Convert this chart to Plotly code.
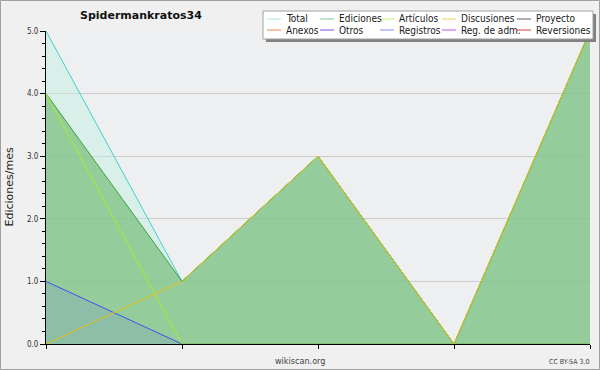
import plotly.graph_objects as go

# ---- data ----
periods = [0, 1, 2, 3, 4]
total = [5, 1, 3, 0, 5]
ediciones = [4, 1, 3, 0, 5]
articulos = [4, 0, 0, 0, 0]
discusiones = [0, 1, 3, 0, 5]
registros = [1, 0, 0, 0, 0]

legend_names = ["Total", "Ediciones", "Artículos", "Discusiones", "Proyecto",
                "Anexos", "Otros", "Registros", "Reg. de adm.", "Reversiones"]
legend_colors = ["#a8e4e0", "#80c890", "#c8f070", "#f0d060", "#606060",
                 "#f08850", "#8050e0", "#8090f0", "#c050e0", "#e04040"]

title = "Spidermankratos34"
y_title = "Ediciones/mes"

W, H = 600, 370
ML, MR, MT, MB = 46, 10, 31, 26
PW, PH = W - ML - MR, H - MT - MB

FONT = "DejaVu Sans Condensed, DejaVu Sans, Liberation Sans"

fig = go.Figure()
fig.add_trace(go.Scatter(x=periods, y=total, mode="lines", fill="tozeroy",
                         fillcolor="rgba(190,240,225,0.45)",
                         line=dict(color="#40d0d0", width=1)))
fig.add_trace(go.Scatter(x=periods, y=ediciones, mode="lines", fill="tozeroy",
                         fillcolor="rgba(120,190,125,0.72)",
                         line=dict(color="#40a040", width=1)))
fig.add_trace(go.Scatter(x=periods, y=registros, mode="lines", fill="tozeroy",
                         fillcolor="rgba(110,130,220,0.18)",
                         line=dict(color="#4050f0", width=1)))
fig.add_trace(go.Scatter(x=periods, y=articulos, mode="lines",
                         line=dict(color="#a8f020", width=1)))
fig.add_trace(go.Scatter(x=periods, y=discusiones, mode="lines",
                         line=dict(color="#e8c010", width=1)))

def px2paper_x(px):
    return (px - ML) / PW

def px2paper_y(py):
    return (H - MB - py) / PH

shapes = []
annotations = []

# outer border
shapes.append(dict(type="rect", xref="paper", yref="paper",
                   x0=px2paper_x(0.5), x1=px2paper_x(W - 0.5),
                   y0=px2paper_y(H - 0.5), y1=px2paper_y(0.5),
                   line=dict(color="#a0a0a0", width=1), fillcolor="rgba(0,0,0,0)",
                   layer="above"))

# legend box with shadow
lx0, lx1, ly0, ly1 = 263, 593, 11, 39
shapes.append(dict(type="rect", xref="paper", yref="paper",
                   x0=px2paper_x(lx0 + 3), x1=px2paper_x(lx1 + 3),
                   y0=px2paper_y(ly1 + 3), y1=px2paper_y(ly0 + 3),
                   line=dict(width=0), fillcolor="#808080", layer="above"))
shapes.append(dict(type="rect", xref="paper", yref="paper",
                   x0=px2paper_x(lx0), x1=px2paper_x(lx1),
                   y0=px2paper_y(ly1), y1=px2paper_y(ly0),
                   line=dict(color="#a0a0a0", width=1), fillcolor="#ffffff",
                   layer="above"))
col_x = [267, 320, 380, 442, 517]
row_y = [19, 30]
for i, (name, col) in enumerate(zip(legend_names, legend_colors)):
    c, r = i % 5, i // 5
    x0 = col_x[c]
    y = row_y[r]
    shapes.append(dict(type="line", xref="paper", yref="paper",
                       x0=px2paper_x(x0), x1=px2paper_x(x0 + 14),
                       y0=px2paper_y(y), y1=px2paper_y(y),
                       line=dict(color=col, width=1), layer="above"))
    annotations.append(dict(text=name, xref="paper", yref="paper",
                            x=px2paper_x(x0 + 17), y=px2paper_y(y),
                            xanchor="left", yanchor="middle", showarrow=False,
                            font=dict(family=FONT, size=10, color="#202020")))

annotations.append(dict(text="<b>" + title + "</b>", xref="paper", yref="paper",
                        x=px2paper_x(141), y=px2paper_y(15), xanchor="center",
                        yanchor="middle", showarrow=False,
                        font=dict(family="DejaVu Sans", size=11, color="#111")))
annotations.append(dict(text=y_title, xref="paper", yref="paper",
                        x=px2paper_x(9), y=0.5, textangle=-90, xanchor="center",
                        yanchor="middle", showarrow=False,
                        font=dict(family="DejaVu Sans", size=11, color="#222")))
annotations.append(dict(text="wikiscan.org", xref="paper", yref="paper",
                        x=px2paper_x(300), y=px2paper_y(361), xanchor="center",
                        yanchor="middle", showarrow=False,
                        font=dict(family=FONT, size=9, color="#444")))
annotations.append(dict(text="CC BY-SA 3.0", xref="paper", yref="paper",
                        x=px2paper_x(591), y=px2paper_y(362), xanchor="right",
                        yanchor="middle", showarrow=False,
                        font=dict(family=FONT, size=7, color="#444")))

fig.update_layout(
    width=W, height=H,
    margin=dict(l=ML, r=MR, t=MT, b=MB, pad=0),
    paper_bgcolor="#f0f0f0", plot_bgcolor="#eeeff1",
    showlegend=False,
    shapes=shapes, annotations=annotations,
    xaxis=dict(range=[0, 4], tickvals=periods, showticklabels=False,
               ticks="outside", ticklen=4, tickcolor="#000",
               showline=True, linecolor="#000", linewidth=1,
               showgrid=False, zeroline=False, fixedrange=True),
    yaxis=dict(range=[0, 5], dtick=1, tickformat=".1f", ticks="outside",
               ticklen=5, tickcolor="#000",
               showline=True, linecolor="#000", linewidth=1,
               showgrid=True, gridcolor="#cccccc", gridwidth=1, zeroline=False,
               tickfont=dict(family=FONT, size=8, color="#333"),
               minor=dict(dtick=0.2, ticks="outside", ticklen=3, tickcolor="#000",
                          showgrid=False),
               fixedrange=True),
)

fig.write_html("out.html", config={"displayModeBar": False},
               post_script="document.body.style.margin='0';document.body.style.padding='0';document.body.style.overflow='hidden';")
